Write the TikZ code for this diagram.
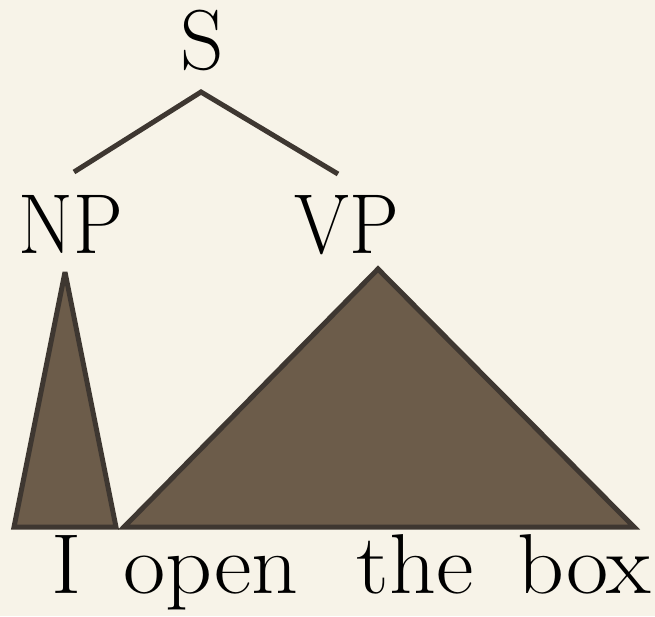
\documentclass[tikz,border=0pt]{standalone}
\definecolor{bg}{RGB}{247,243,232}
\definecolor{tri}{RGB}{108,92,74}
\definecolor{edge}{RGB}{62,55,49}
\tikzset{
  lbl/.style={inner sep=0pt, anchor=base, font=\fontsize{85}{90}\selectfont, text=black},
  branch/.style={draw=edge, line width=5pt},
  roof/.style={draw=edge, fill=tri, line width=5pt, line join=miter}
}
\begin{document}
\begin{tikzpicture}[x=1pt,y=-1pt]
\fill[bg] (0,0) rectangle (655,616);
\useasboundingbox (0,0) rectangle (655,616);
% labels
\node[lbl] (S) at (202,69) {S};
\node[lbl] (NP) at (71,253) {\scalebox{0.93}[1]{NP}};
\node[lbl] (VP) at (347,253) {\scalebox{0.93}[1]{VP}};
\node[lbl] (w1) at (67,593) {\scalebox{1.08}[1]{I}};
\node[lbl] (w2) at (211,593) {\scalebox{1.08}[1]{open}};
\node[lbl] (w3) at (415,593) {\scalebox{1.08}[1]{the}};
\node[lbl] (w4) at (584,593) {\scalebox{1.08}[1]{box}};
% branch points
\coordinate (sb) at (201,92);
\coordinate (npt) at (74,172);
\coordinate (vpt) at (338,174);
\draw[branch] (npt) -- (sb) -- (vpt);
% roofs
\coordinate (na) at (65,272);
\coordinate (nl) at (14,527);
\coordinate (nr) at (116,527);
\coordinate (va) at (378,269);
\coordinate (vl) at (124,527);
\coordinate (vr) at (634,527);
\draw[roof, miter limit=4] (na) -- (nr) -- (nl) -- cycle;
\draw[roof] (va) -- (vr) -- (vl) -- cycle;
\end{tikzpicture}
\end{document}
